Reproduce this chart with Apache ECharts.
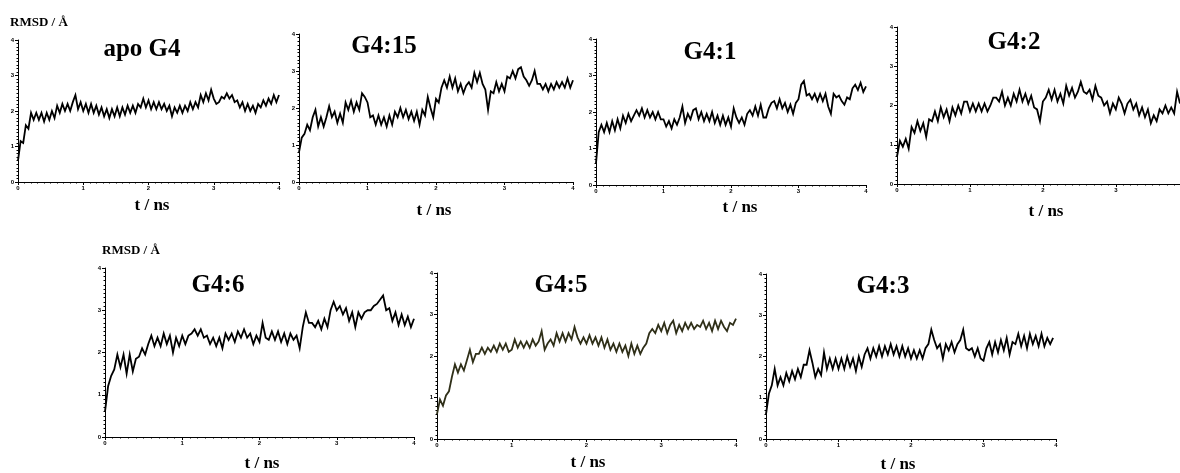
<!DOCTYPE html>
<html><head><meta charset="utf-8">
<script src="https://cdn.jsdelivr.net/npm/echarts@6/dist/echarts.min.js"></script>
<style>html,body{margin:0;padding:0;background:#fff}#c{width:1180px;height:473px}</style>
</head><body><div id="c"></div>
<script>
// ---- DATA ----
const timeNs = [0,0.04,0.08,0.12,0.16,0.20,0.24,0.28,0.32,0.36,0.40,0.44,0.48,0.52,0.56,0.60,0.64,0.68,0.72,0.76,0.80,0.84,0.88,0.92,0.96,
1.00,1.04,1.08,1.12,1.16,1.20,1.24,1.28,1.32,1.36,1.40,1.44,1.48,1.52,1.56,1.60,1.64,1.68,1.72,1.76,1.80,1.84,1.88,1.92,1.96,
2.00,2.04,2.08,2.12,2.16,2.20,2.24,2.28,2.32,2.36,2.40,2.44,2.48,2.52,2.56,2.60,2.64,2.68,2.72,2.76,2.80,2.84,2.88,2.92,2.96,
3.00,3.04,3.08,3.12,3.16,3.20,3.24,3.28,3.32,3.36,3.40,3.44,3.48,3.52,3.56,3.60,3.64,3.68,3.72,3.76,3.80,3.84,3.88,3.92,3.96,4.00];

const panelNames = ['apo G4','G4:15','G4:1','G4:2','G4:6','G4:5','G4:3'];
const xTickLabels = ['0','1','2','3','4'];
const yTickLabels = ['0','1','2','3','4'];
const xAxisTitle = 't / ns';
const yAxisTitle = 'RMSD / Å';

const rmsdApoG4 = [0.6,1.15,1.1,1.6,1.5,1.95,1.75,1.95,1.75,1.95,1.7,1.95,1.75,2.0,1.8,2.15,1.95,2.2,2.0,2.2,2.0,2.25,2.45,2.05,2.25,
2.0,2.2,1.95,2.2,1.95,2.15,1.9,2.1,1.85,2.05,1.8,2.05,1.85,2.1,1.85,2.1,1.9,2.15,1.95,2.15,1.95,2.2,2.1,2.35,2.1,
2.3,2.05,2.25,2.05,2.25,2.05,2.2,2.0,2.15,1.85,2.1,1.95,2.15,1.95,2.15,2.0,2.25,2.05,2.25,2.1,2.45,2.25,2.5,2.3,2.6,
2.35,2.2,2.25,2.4,2.35,2.5,2.35,2.45,2.25,2.3,2.1,2.25,2.0,2.2,2.0,2.15,1.95,2.2,2.1,2.3,2.15,2.35,2.2,2.45,2.25,2.45];

const rmsdG4_15 = [0.8,1.2,1.3,1.55,1.4,1.75,1.95,1.5,1.75,1.5,1.75,2.05,1.75,1.9,1.6,1.85,1.6,2.15,1.95,2.2,1.9,2.15,1.95,2.4,2.3,
2.15,1.75,1.8,1.55,1.8,1.55,1.75,1.5,1.8,1.55,1.9,1.75,2.0,1.75,1.95,1.7,1.9,1.65,1.9,1.55,1.95,1.8,2.3,2.0,1.75,
2.25,2.15,2.55,2.75,2.55,2.85,2.55,2.8,2.45,2.65,2.4,2.6,2.7,2.55,2.95,2.7,2.95,2.65,2.5,1.95,2.45,2.4,2.7,2.45,2.65,
2.45,2.85,2.8,3.0,2.8,3.05,3.1,2.85,2.75,2.6,2.75,3.0,2.65,2.65,2.5,2.65,2.45,2.65,2.5,2.7,2.55,2.7,2.55,2.8,2.55,2.75];

const rmsdG4_1 = [0.6,1.45,1.65,1.45,1.7,1.45,1.75,1.5,1.8,1.55,1.9,1.7,1.95,1.75,1.9,2.05,1.9,2.1,1.85,2.05,1.85,2.0,1.8,2.0,1.8,
1.8,1.6,1.75,1.55,1.8,1.65,1.85,2.15,1.7,1.95,1.8,2.05,2.1,1.8,2.0,1.75,1.95,1.75,2.0,1.7,1.9,1.65,1.9,1.65,1.85,
1.6,2.1,1.85,1.7,1.85,1.65,1.95,2.05,1.9,2.15,1.9,2.2,1.85,1.85,2.1,2.25,2.3,2.1,2.35,2.1,2.25,2.0,2.2,1.95,2.25,
2.35,2.75,2.85,2.45,2.5,2.35,2.5,2.3,2.5,2.3,2.5,2.15,1.95,2.5,2.4,2.45,2.3,2.2,2.4,2.35,2.65,2.75,2.6,2.8,2.55,2.7];

const rmsdG4_2 = [0.7,1.1,0.95,1.15,0.9,1.45,1.3,1.6,1.35,1.55,1.2,1.65,1.6,1.85,1.6,1.95,1.7,1.9,1.6,1.95,1.75,2.0,1.8,2.1,2.1,
1.85,2.05,1.85,2.05,1.85,2.05,1.85,2.0,2.2,2.2,2.1,2.35,2.0,2.2,2.0,2.3,2.1,2.4,2.1,2.3,2.05,2.25,1.95,1.9,1.6,
2.1,2.2,2.4,2.15,2.4,2.1,2.3,2.05,2.5,2.25,2.45,2.2,2.35,2.6,2.35,2.3,2.4,2.15,2.5,2.25,2.2,2.0,2.1,1.8,2.05,
1.9,2.2,2.05,1.8,2.05,2.15,1.9,2.05,1.75,1.95,1.7,1.9,1.55,1.75,1.6,1.9,1.8,2.0,1.8,1.95,1.8,2.35,2.05];

const rmsdG4_6 = [0.6,1.2,1.45,1.6,1.95,1.65,1.95,1.5,1.95,1.55,1.85,1.9,2.1,1.95,2.2,2.4,2.15,2.35,2.15,2.45,2.2,2.4,2.0,2.35,2.15,
2.4,2.2,2.4,2.45,2.55,2.4,2.55,2.35,2.4,2.2,2.35,2.15,2.35,2.1,2.45,2.3,2.45,2.25,2.5,2.35,2.55,2.35,2.45,2.2,2.4,
2.25,2.7,2.35,2.3,2.5,2.3,2.5,2.25,2.45,2.2,2.45,2.3,2.4,2.1,2.6,2.95,2.7,2.7,2.6,2.75,2.55,2.8,2.6,3.0,3.2,
3.0,3.1,2.9,3.05,2.75,2.95,2.6,2.95,2.8,2.95,3.0,3.0,3.1,3.15,3.25,3.35,3.0,3.05,2.75,2.95,2.65,2.9,2.65,2.85,2.6,2.8];

const rmsdG4_5 = [0.6,0.95,0.8,1.05,1.15,1.5,1.8,1.6,1.8,1.65,1.9,2.15,1.85,2.05,2.05,2.2,2.05,2.2,2.1,2.25,2.1,2.3,2.15,2.3,2.1,
2.15,2.4,2.2,2.35,2.2,2.35,2.2,2.4,2.25,2.35,2.6,2.15,2.3,2.4,2.25,2.55,2.35,2.55,2.35,2.55,2.4,2.7,2.45,2.3,2.45,
2.3,2.5,2.3,2.45,2.25,2.45,2.2,2.4,2.15,2.3,2.1,2.3,2.1,2.25,2.0,2.3,2.05,2.25,2.05,2.2,2.3,2.55,2.65,2.55,2.75,
2.6,2.8,2.55,2.75,2.85,2.55,2.75,2.6,2.8,2.65,2.8,2.65,2.75,2.7,2.85,2.65,2.8,2.6,2.85,2.65,2.85,2.7,2.6,2.8,2.75,2.9];

const rmsdG4_3 = [0.6,1.1,1.3,1.7,1.3,1.5,1.3,1.6,1.4,1.65,1.45,1.7,1.5,1.8,1.8,2.15,1.85,1.5,1.7,1.55,2.1,1.7,1.95,1.7,1.95,
1.7,1.95,1.7,2.0,1.75,1.95,1.65,2.0,1.75,2.05,2.2,1.95,2.2,2.0,2.25,2.0,2.25,2.05,2.3,2.05,2.25,2.0,2.25,2.0,2.2,
1.95,2.15,1.95,2.15,1.95,2.2,2.3,2.65,2.4,2.2,2.3,1.95,2.3,2.15,2.35,2.1,2.3,2.4,2.65,2.2,2.15,2.2,2.0,2.2,1.95,
1.9,2.2,2.35,2.05,2.35,2.1,2.4,2.15,2.45,2.05,2.35,2.3,2.55,2.25,2.5,2.2,2.55,2.3,2.5,2.25,2.55,2.25,2.45,2.3,2.45];

const seriesValues = [rmsdApoG4, rmsdG4_15, rmsdG4_1, rmsdG4_2, rmsdG4_6, rmsdG4_5, rmsdG4_3];

// ---- LAYOUT ----
const layout = [
  {l:18,  t:40,  w:261, h:142, xMax:4,    color:'#000', tx:142,  ty:50,  xt:[152,206], yt:[10,23]},
  {l:299, t:34,  w:274, h:148, xMax:4,    color:'#000', tx:384,  ty:47,  xt:[434,211]},
  {l:596, t:39,  w:270, h:146, xMax:4,    color:'#000', tx:710,  ty:53,  xt:[740,208]},
  {l:897, t:27,  w:283, h:157, xMax:3.88, color:'#000', tx:1014, ty:43,  xt:[1046,212]},
  {l:105, t:268, w:309, h:169, xMax:4,    color:'#000', tx:218,  ty:286, xt:[262,464], yt:[102,251]},
  {l:437, t:273, w:299, h:166, xMax:4,    color:'#2f2f18', tx:561, ty:286, xt:[588,463]},
  {l:766, t:274, w:290, h:165, xMax:4,    color:'#000', tx:883,  ty:287, xt:[898,465]}
];

const grids = [], xAxes = [], yAxes = [], series = [], graphics = [];
const tickFont = {fontSize:6, fontWeight:'bold', fontFamily:'Liberation Sans', color:'#000'};
layout.forEach((p, i) => {
  grids.push({left:p.l, top:p.t, width:p.w, height:p.h, containLabel:false, outerBoundsMode:'none'});
  xAxes.push({
    type:'value', gridIndex:i, min:0, max:p.xMax, interval:1,
    axisLine:{show:true, onZero:false, lineStyle:{color:'#000', width:1}},
    axisTick:{show:true, length:3, lineStyle:{color:'#000', width:1}},
    minorTick:{show:true, splitNumber:10, length:1.5, lineStyle:{color:'#000', width:1}},
    splitLine:{show:false}, minorSplitLine:{show:false},
    axisLabel:Object.assign({margin:3, showMaxLabel:p.xMax===4, formatter:v => Number.isInteger(v) && xTickLabels[v] !== undefined ? xTickLabels[v] : ''}, tickFont)
  });
  yAxes.push({
    type:'value', gridIndex:i, min:0, max:4, interval:1,
    axisLine:{show:true, onZero:false, lineStyle:{color:'#000', width:1}},
    axisTick:{show:true, length:3, lineStyle:{color:'#000', width:1}},
    minorTick:{show:true, splitNumber:10, length:1.5, lineStyle:{color:'#000', width:1}},
    splitLine:{show:false}, minorSplitLine:{show:false},
    axisLabel:Object.assign({margin:4, formatter:v => yTickLabels[v]}, tickFont)
  });
  const vals = seriesValues[i];
  series.push({
    type:'line', xAxisIndex:i, yAxisIndex:i, showSymbol:false, symbol:'none',
    animation:false, silent:true,
    lineStyle:{color:p.color, width:1.8, join:'miter'},
    data: vals.map((v, k) => [timeNs[k], v])
  });
  graphics.push({type:'text', x:p.tx, y:p.ty, silent:true, style:{text:panelNames[i], font:'bold 25px "Liberation Serif"', fill:'#000', align:'center', verticalAlign:'middle'}});
  graphics.push({type:'text', x:p.xt[0], y:p.xt[1], silent:true, style:{text:xAxisTitle, font:'bold 17px "Liberation Serif"', fill:'#000', align:'center', verticalAlign:'middle'}});
  if (p.yt) graphics.push({type:'text', x:p.yt[0], y:p.yt[1], silent:true, style:{text:yAxisTitle, font:'bold 13px "Liberation Serif"', fill:'#000', align:'left', verticalAlign:'middle'}});
});

const chart = echarts.init(document.getElementById('c'), null, {renderer:'canvas'});
chart.setOption({
  backgroundColor:'#fff', animation:false,
  grid:grids, xAxis:xAxes, yAxis:yAxes, series:series, graphic:graphics
});
</script></body></html>
